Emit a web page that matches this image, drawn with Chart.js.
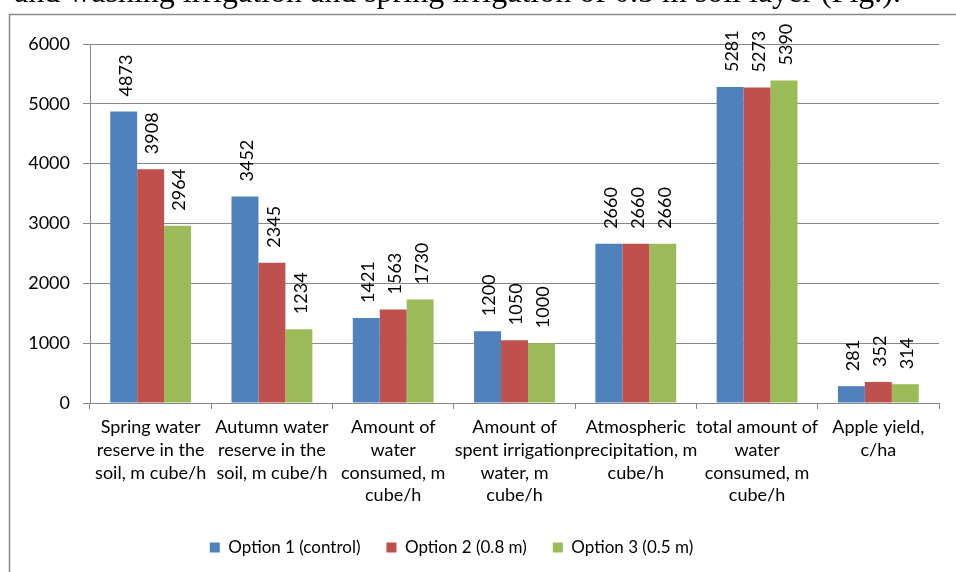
<!DOCTYPE html>
<html lang="en">
<head>
    <meta charset="UTF-8">
    <title>Water reserve chart</title>
    <script src="https://cdn.jsdelivr.net/npm/chart.js"></script>
    <style>
        body {
            background-color: white;
            margin: 0;
            padding: 0;
            overflow: hidden;
        }
        .chart-container {
            position: relative;
            width: 956px;
            height: 572px;
        }
    </style>
</head>
<body>
    <div class="chart-container">
        <canvas id="waterChart"></canvas>
    </div>

    <script>
        // categories (multi-line labels as in the original)
        const categories = [
            ['Spring water', 'reserve in the', 'soil, m cube/h'],
            ['Autumn water', 'reserve in the', 'soil, m cube/h'],
            ['Amount of', 'water', 'consumed, m', 'cube/h'],
            ['Amount of', 'spent irrigation', 'water, m', 'cube/h'],
            ['Atmospheric', 'precipitation, m', 'cube/h'],
            ['total amount of', 'water', 'consumed, m', 'cube/h'],
            ['Apple yield,', 'c/ha']
        ];
        const seriesNames = ['Option 1 (control)', 'Option 2 (0.8 m)', 'Option 3 (0.5 m)'];
        const option1 = [4873, 3452, 1421, 1200, 2660, 5281, 281];
        const option2 = [3908, 2345, 1563, 1050, 2660, 5273, 352];
        const option3 = [2964, 1234, 1730, 1000, 2660, 5390, 314];
        const yTicks = [0, 1000, 2000, 3000, 4000, 5000, 6000];
        const pageText = 'and washing irrigation and spring irrigation of 0.5 m soil layer (Fig.).';

        const FONT = 'Lato, "Noto Sans", sans-serif';
        const gridColor = '#878787';

        // frame of the chart object + clipped line of the document above it
        const framePlugin = {
            id: 'frame',
            afterLayout(chart) {
                // legend sits a bit left of the canvas centre, like the original
                if (chart.legend) {
                    chart.legend.left -= 18;
                    chart.legend.right -= 18;
                }
            },
            beforeDraw(chart) {
                const ctx = chart.ctx;
                ctx.save();
                ctx.fillStyle = 'white';
                ctx.fillRect(0, 0, chart.width, chart.height);
                ctx.strokeStyle = '#8a8a8a';
                ctx.lineWidth = 1.5;
                ctx.beginPath();
                ctx.moveTo(9.5, chart.height + 5);
                ctx.lineTo(9.5, 14.5);
                ctx.lineTo(chart.width + 5, 14.5);
                ctx.stroke();
                ctx.fillStyle = 'black';
                ctx.font = '32px "Liberation Serif", serif';
                ctx.textBaseline = 'alphabetic';
                ctx.textAlign = 'left';
                ctx.fillText(pageText, 14, 2, 935);
                ctx.restore();
            }
        };

        // rotated value labels above each bar
        const valueLabels = {
            id: 'valueLabels',
            afterDatasetsDraw(chart) {
                const ctx = chart.ctx;
                ctx.save();
                ctx.font = '18px ' + FONT;
                ctx.fillStyle = 'black';
                ctx.textAlign = 'left';
                ctx.textBaseline = 'middle';
                chart.data.datasets.forEach((ds, i) => {
                    const meta = chart.getDatasetMeta(i);
                    meta.data.forEach((bar, j) => {
                        ctx.save();
                        ctx.translate(bar.x + 2, bar.y - 15);
                        ctx.rotate(-Math.PI / 2);
                        ctx.fillText(String(ds.data[j]), 0, 0);
                        ctx.restore();
                    });
                });
                ctx.restore();
            }
        };

        const ctx = document.getElementById('waterChart').getContext('2d');
        new Chart(ctx, {
            type: 'bar',
            data: {
                labels: categories,
                datasets: [
                    { label: seriesNames[0], data: option1, backgroundColor: '#4F81BD' },
                    { label: seriesNames[1], data: option2, backgroundColor: '#C0504D' },
                    { label: seriesNames[2], data: option3, backgroundColor: '#9BBB59' }
                ]
            },
            options: {
                responsive: true,
                maintainAspectRatio: false,
                animation: false,
                devicePixelRatio: 1,
                datasets: {
                    bar: {
                        barPercentage: 1.0,
                        categoryPercentage: 3 / 4.5,
                        borderWidth: 0
                    }
                },
                layout: {
                    padding: { left: 0, right: 17, top: 44, bottom: 6 }
                },
                scales: {
                    x: {
                        grid: {
                            offset: true,
                            drawOnChartArea: false,
                            drawTicks: true,
                            tickLength: 6,
                            color: gridColor
                        },
                        border: { color: gridColor, width: 1 },
                        ticks: {
                            color: 'black',
                            autoSkip: false,
                            maxRotation: 0,
                            minRotation: 0,
                            padding: 7,
                            font: { family: FONT, size: 18, lineHeight: 1.26 }
                        },
                        afterFit(scale) { scale.height = 110; }
                    },
                    y: {
                        min: 0,
                        max: 6000,
                        afterBuildTicks(scale) {
                            scale.ticks = yTicks.map(v => ({ value: v }));
                        },
                        grid: {
                            color: gridColor,
                            drawTicks: true,
                            tickLength: 7
                        },
                        border: { color: gridColor, width: 1 },
                        ticks: {
                            color: 'black',
                            padding: 13,
                            font: { family: FONT, size: 18 },
                            callback: v => String(v)
                        },
                        afterFit(scale) { scale.width = 90; }
                    }
                },
                plugins: {
                    legend: {
                        position: 'bottom',
                        labels: {
                            color: 'black',
                            boxWidth: 10,
                            boxHeight: 10,
                            padding: 26,
                            font: { family: FONT, size: 17 }
                        }
                    },
                    tooltip: { enabled: false }
                }
            },
            plugins: [framePlugin, valueLabels]
        });
    </script>
</body>
</html>
